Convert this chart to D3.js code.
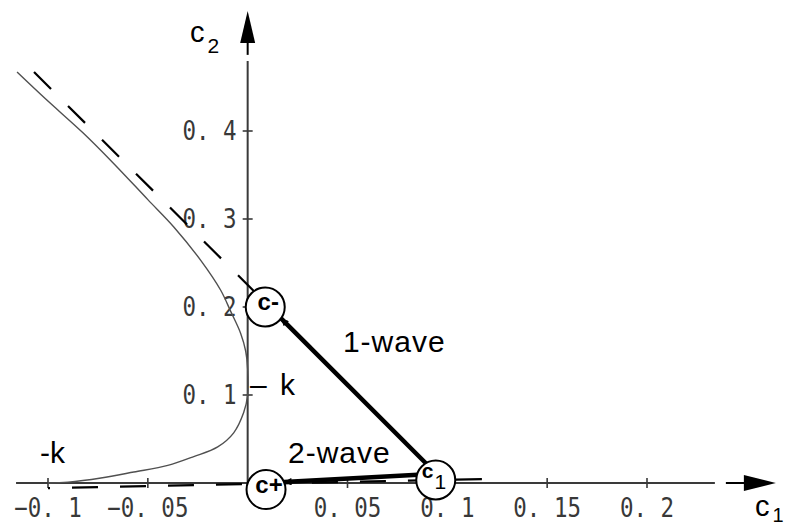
<!DOCTYPE html>
<html><head><meta charset="utf-8">
<script src="https://cdn.jsdelivr.net/npm/d3@7"></script>
<style>body{margin:0;background:#fff}</style>
</head><body>
<svg id="c" width="788" height="525"></svg>
<script>
// ---- data ----
const xTicks = [-0.1, -0.05, 0.05, 0.1, 0.15, 0.2];
const xTickLabels = ["\u22120. 1", "\u22120. 05", "0. 05", "0. 1", "0. 15", "0. 2"];
const yTicks = [0.1, 0.2, 0.3, 0.4];
const yTickLabels = ["0. 1", "0. 2", "0. 3", "0. 4"];

// boundary curve (c1, c2)
const curveC1 = [-0.1155, -0.101, -0.0825, -0.0675, -0.05, -0.037, -0.0235, -0.0135, -0.0085, -0.0035, -0.001, 0, 0, -0.002, -0.007, -0.015, -0.027, -0.04, -0.057, -0.0735, -0.09, -0.1];
const curveC2 = [0.467, 0.436, 0.398, 0.364, 0.322, 0.291, 0.253, 0.219, 0.195, 0.17, 0.15, 0.13, 0.1, 0.08, 0.057, 0.041, 0.03, 0.02, 0.0125, 0.0057, 0.001, 0];

// dashed lines (endpoints)
const dashUpperC1 = [-0.107, 0.004];
const dashUpperC2 = [0.467, 0.216];
const dashLowerC1 = [-0.1, 0.118];
const dashLowerC2 = [-0.0058, 0.0045];

// states
const stateNames = ["c-", "c1", "c+"];
const stateC1 = [0.0095, 0.0945, 0.0095];
const stateC2 = [0.2034, 0.0105, 0.0];
// circle label positions
const circleC1 = [0.0088, 0.0942, 0.0092];
const circleC2 = [0.2, 0.0034, -0.0075];

// waves: from -> to
const waveFrom = ["c1", "c1"];
const waveTo = ["c-", "c+"];
const waveLabels = ["1-wave", "2-wave"];
const waveLabelC1 = [0.0477, 0.0202];
const waveLabelC2 = [0.149, 0.0227];

// k labels
const kLabels = ["\u2013 k", "-k"];
const kLabelC1 = [0.0012, -0.104];
const kLabelC2 = [0.1, 0.0227];

// ---- scales ----
const x = d3.scaleLinear().domain([-0.1, 0.2]).range([48, 647]);
const y = d3.scaleLinear().domain([0, 0.4]).range([483, 131]);

const svg = d3.select("#c");
const defs = svg.append("defs");
defs.append("marker").attr("id", "ah")
  .attr("viewBox", "0 0 10 10").attr("refX", 10).attr("refY", 5)
  .attr("markerUnits", "userSpaceOnUse").attr("markerWidth", 9).attr("markerHeight", 7.5)
  .attr("orient", "auto")
  .append("path").attr("d", "M0,0L10,5L0,10z").attr("fill", "#000");

const axisCol = "#3a3a3a";
// ---- axes ----
const x0 = x(0), y0 = y(0);
svg.append("line").attr("x1", x(-0.116)).attr("x2", x(0.234)).attr("y1", y0).attr("y2", y0)
  .attr("stroke", axisCol).attr("stroke-width", 2);
svg.append("line").attr("x1", x0).attr("x2", x0).attr("y1", y(0.4795)).attr("y2", y0)
  .attr("stroke", axisCol).attr("stroke-width", 2);
// arrows
const xe = x(0.2395);
svg.append("line").attr("x1", xe).attr("x2", xe + 20).attr("y1", y0).attr("y2", y0)
  .attr("stroke", "#000").attr("stroke-width", 2);
svg.append("path").attr("d", `M${xe + 18},${y0 - 8}L${xe + 50},${y0}L${xe + 18},${y0 + 8}z`).attr("fill", "#000");
const ye = y(0.4865);
svg.append("line").attr("x1", x0).attr("x2", x0).attr("y1", ye).attr("y2", ye - 14)
  .attr("stroke", "#000").attr("stroke-width", 2);
svg.append("path").attr("d", `M${x0 - 7.5},${ye - 12}L${x0},${ye - 44}L${x0 + 7.5},${ye - 12}z`).attr("fill", "#000");

// ticks
svg.selectAll(".xt").data(xTicks).join("line")
  .attr("x1", d => x(d)).attr("x2", d => x(d)).attr("y1", y0 - 5).attr("y2", y0 + 5)
  .attr("stroke", axisCol).attr("stroke-width", 1.6);
svg.selectAll(".yt").data(yTicks).join("line")
  .attr("y1", d => y(d)).attr("y2", d => y(d)).attr("x1", x0 - 5).attr("x2", x0 + 5)
  .attr("stroke", axisCol).attr("stroke-width", 1.6);

const tickFont = "'DejaVu Sans Mono', monospace";
const sy = 1.18;
svg.selectAll(".xl").data(xTicks).join("text")
  .attr("transform", d => `translate(${x(d)},${y0 + 34}) scale(1,${sy})`)
  .attr("text-anchor", "middle").attr("font-family", tickFont).attr("font-size", 22.5)
  .attr("fill", "#383838").text((d, i) => xTickLabels[i]);
svg.selectAll(".yl").data(yTicks).join("text")
  .attr("transform", d => `translate(${x0 - 11},${y(d) + 9}) scale(1,${sy})`)
  .attr("text-anchor", "end").attr("font-family", tickFont).attr("font-size", 22.5)
  .attr("fill", "#383838").text((d, i) => yTickLabels[i]);

// axis names
const sans = "'Liberation Sans', Arial, sans-serif";
const c2t = svg.append("text").attr("x", 190).attr("y", 42).attr("font-family", sans).attr("font-size", 29).attr("fill", "#000");
c2t.append("tspan").text("c");
c2t.append("tspan").attr("dx", 3).attr("dy", 11).attr("font-size", 21).text("2");
const c1t = svg.append("text").attr("x", 755).attr("y", 516).attr("font-family", sans).attr("font-size", 29).attr("fill", "#000");
c1t.append("tspan").text("c");
c1t.append("tspan").attr("dx", 3).attr("dy", 6).attr("font-size", 20).text("1");

// ---- boundary curve ----
const curvePts = curveC1.map((d, i) => [d, curveC2[i]]);
svg.append("path").datum(curvePts)
  .attr("d", d3.line().x(d => x(d[0])).y(d => y(d[1])).curve(d3.curveCatmullRom))
  .attr("fill", "none").attr("stroke", "#505050").attr("stroke-width", 1.4);

// ---- dashed lines ----
[[dashUpperC1, dashUpperC2], [dashLowerC1, dashLowerC2]].forEach(([cx, cy], k) => {
  svg.append("line").attr("x1", x(cx[0])).attr("y1", y(cy[0])).attr("x2", x(cx[1])).attr("y2", y(cy[1]))
    .attr("stroke", "#000").attr("stroke-width", 2.2)
    .attr("stroke-dasharray", k === 0 ? "24,24" : "26,22")
    .attr("stroke-dashoffset", k === 0 ? 0 : 24);
});

// ---- waves ----
const R = 19.5;
const st = name => { const i = stateNames.indexOf(name); return [x(stateC1[i]), y(stateC2[i])]; };
const circ = name => { const i = stateNames.indexOf(name); return [x(circleC1[i]), y(circleC2[i])]; };
waveFrom.forEach((f, i) => {
  const A = st(f), B = st(waveTo[i]), C = circ(waveTo[i]);
  const dx = B[0] - A[0], dy = B[1] - A[1];
  const fx = A[0] - C[0], fy = A[1] - C[1];
  const a = dx * dx + dy * dy, b = 2 * (fx * dx + fy * dy), c = fx * fx + fy * fy - R * R;
  const disc = Math.max(0, b * b - 4 * a * c);
  const t = (-b - Math.sqrt(disc)) / (2 * a);
  const E = [A[0] + t * dx, A[1] + t * dy];
  svg.append("line").attr("x1", A[0]).attr("y1", A[1]).attr("x2", E[0]).attr("y2", E[1])
    .attr("stroke", "#000").attr("stroke-width", 4.5).attr("marker-end", "url(#ah)");
});

// circles
svg.selectAll(".circ").data(stateNames).join("circle")
  .attr("cx", (d, i) => x(circleC1[i])).attr("cy", (d, i) => y(circleC2[i])).attr("r", R)
  .attr("fill", "#fff").attr("stroke", "#000").attr("stroke-width", 2);
stateNames.forEach((n, i) => {
  const cx = x(circleC1[i]), cy = y(circleC2[i]);
  if (n === "c1") {
    const t = svg.append("text").attr("x", cx - 14).attr("y", cy - 2).attr("font-family", sans).attr("fill", "#000");
    t.append("tspan").attr("font-weight", "bold").attr("font-size", 21).text("c");
    t.append("tspan").attr("dx", 1).attr("dy", 11).attr("font-size", 21).text("1");
  } else {
    svg.append("text").attr("x", cx + 3).attr("y", cy + 3).attr("text-anchor", "middle")
      .attr("font-family", sans).attr("font-weight", "bold").attr("font-size", 24).attr("fill", "#000").text(n);
  }
});

// labels
svg.selectAll(".wl").data(waveLabels).join("text")
  .attr("x", (d, i) => x(waveLabelC1[i])).attr("y", (d, i) => y(waveLabelC2[i]))
  .attr("font-family", sans).attr("font-size", 30).attr("letter-spacing", 1).attr("fill", "#000").text(d => d);
svg.selectAll(".kl").data(kLabels).join("text")
  .attr("x", (d, i) => x(kLabelC1[i])).attr("y", (d, i) => y(kLabelC2[i]))
  .attr("font-family", sans).attr("font-size", 30).attr("fill", "#000")
  .attr("word-spacing", 5).text(d => d);
</script>
</body></html>
